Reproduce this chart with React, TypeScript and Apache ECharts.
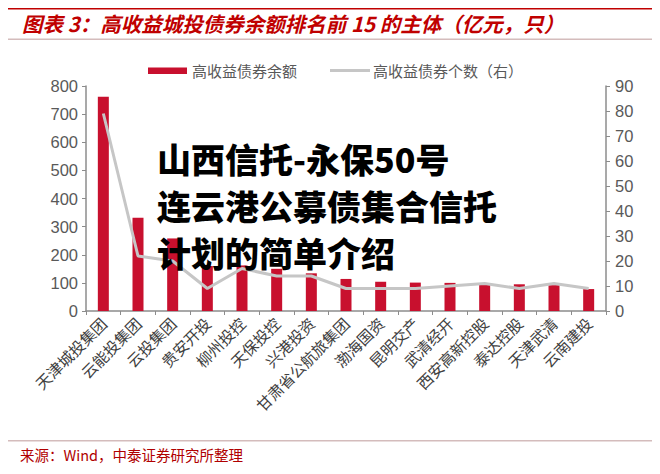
import React, { useEffect, useRef } from "react";
import * as echarts from "echarts";

const categories = [
  "天津城投集团", "云能投集团", "云投集团", "贵安开投", "柳州投控",
  "天保投控", "兴港投资", "甘肃省公航旅集团", "渤海国资", "昆明交产",
  "武清经开", "西安高新控股", "泰达控股", "天津武清", "云南建投",
];
const balanceValues = [762, 332, 258, 160, 162, 150, 134, 114, 104, 101, 100, 98, 95, 92, 78];
const countValues = [79, 22, 20, 9, 17, 14, 14, 9, 9, 9, 10, 11, 9, 11, 9];
const leftTicks = { min: 0, max: 800, interval: 100 };
const rightTicks = { min: 0, max: 90, interval: 10 };
const seriesNames = ["高收益债券余额", "高收益债券个数（右）"];
const titleText = "图表 3：高收益城投债券余额排名前 15 的主体（亿元，只）";
const sourceText = "来源：Wind，中泰证券研究所整理";
const overlayLines = ["山西信托-永保50号", "连云港公募债集合信托", "计划的简单介绍"];

const CJK = '"Noto Sans CJK SC", "Noto Sans", sans-serif';
const NUM = '"Liberation Sans", Arial, sans-serif';

export default function App() {
  const ref = useRef<HTMLDivElement>(null);
  useEffect(() => {
    if (!ref.current) return;
    const chart = echarts.init(ref.current, null, { renderer: "svg" });
    const axisGray = "#8c8c8c";
    const barColor = "#c8102e";
    const lineColor = "#c6c6c6";
    chart.setOption({
      animation: false,
      backgroundColor: "#ffffff",
      grid: { left: 86, right: 54, top: 86, bottom: 163, containLabel: false },
      legend: { show: false, data: seriesNames },
      xAxis: {
        type: "category",
        data: categories,
        axisLine: { lineStyle: { color: axisGray, width: 1.5 } },
        axisTick: { show: true, length: 4, lineStyle: { color: axisGray } },
        axisLabel: {
          interval: 0,
          rotate: 45,
          margin: 9,
          fontFamily: CJK,
          fontSize: 15.5,
          color: "#404040",
        },
      },
      yAxis: [
        {
          type: "value",
          min: leftTicks.min,
          max: leftTicks.max,
          interval: leftTicks.interval,
          axisLine: { show: true, lineStyle: { color: axisGray, width: 1.5 } },
          axisTick: { show: true, length: 4, lineStyle: { color: axisGray } },
          splitLine: { show: false },
          axisLabel: { fontFamily: NUM, fontSize: 16.5, color: "#595959", margin: 8 },
        },
        {
          type: "value",
          min: rightTicks.min,
          max: rightTicks.max,
          interval: rightTicks.interval,
          position: "right",
          axisLine: { show: true, lineStyle: { color: axisGray, width: 1.5 } },
          axisTick: { show: true, length: 4, lineStyle: { color: axisGray } },
          splitLine: { show: false },
          axisLabel: { fontFamily: NUM, fontSize: 16.5, color: "#595959", margin: 9 },
        },
      ],
      series: [
        {
          name: seriesNames[0],
          type: "bar",
          data: balanceValues,
          barWidth: 11,
          itemStyle: { color: barColor },
          z: 2,
        },
        {
          name: seriesNames[1],
          type: "line",
          yAxisIndex: 1,
          data: countValues,
          symbol: "none",
          lineStyle: { color: lineColor, width: 3 },
          itemStyle: { color: lineColor },
          z: 3,
        },
      ],
      graphic: [
        { type: "rect", shape: { x: 7, y: 6.5, width: 646, height: 3 }, style: { fill: "#c00000" }, silent: true },
        {
          type: "text",
          left: 22,
          top: 13,
          style: {
            text: titleText,
            fontFamily: CJK,
            fontSize: 20.5,
            fontStyle: "italic",
            fontWeight: "bold",
            fill: "#c00000",
          },
        },
        { type: "rect", shape: { x: 7, y: 38.5, width: 646, height: 1.5 }, style: { fill: "#d4bcbc" }, silent: true },
        // legend
        { type: "rect", shape: { x: 148, y: 67.5, width: 39, height: 6.5 }, style: { fill: barColor }, silent: true },
        {
          type: "text",
          x: 192,
          y: 70.5,
          style: { text: seriesNames[0], fontFamily: CJK, fontSize: 15, fill: "#595959", verticalAlign: "middle" },
        },
        {
          type: "line",
          shape: { x1: 330, y1: 70.5, x2: 370, y2: 70.5 },
          style: { stroke: lineColor, lineWidth: 3 },
          silent: true,
        },
        {
          type: "text",
          x: 373,
          y: 70.5,
          style: { text: seriesNames[1], fontFamily: CJK, fontSize: 15, fill: "#595959", verticalAlign: "middle" },
        },
        { type: "rect", shape: { x: 7, y: 440, width: 646, height: 1.5 }, style: { fill: "#d4bcbc" }, silent: true },
        {
          type: "text",
          left: 20,
          top: 447,
          style: { text: sourceText, fontFamily: CJK, fontSize: 14.5, fill: "#b00000" },
        },
        ...overlayLines.map((t, i) => ({
          type: "text",
          left: 157,
          top: 141 + i * 47,
          z: 100,
          style: { text: t, fontFamily: CJK, fontSize: 34, fontWeight: 900, fill: "#000000" },
        })),
      ],
    });
    return () => chart.dispose();
  }, []);
  return <div ref={ref} style={{ width: 660, height: 474, margin: -8 }} />;
}
